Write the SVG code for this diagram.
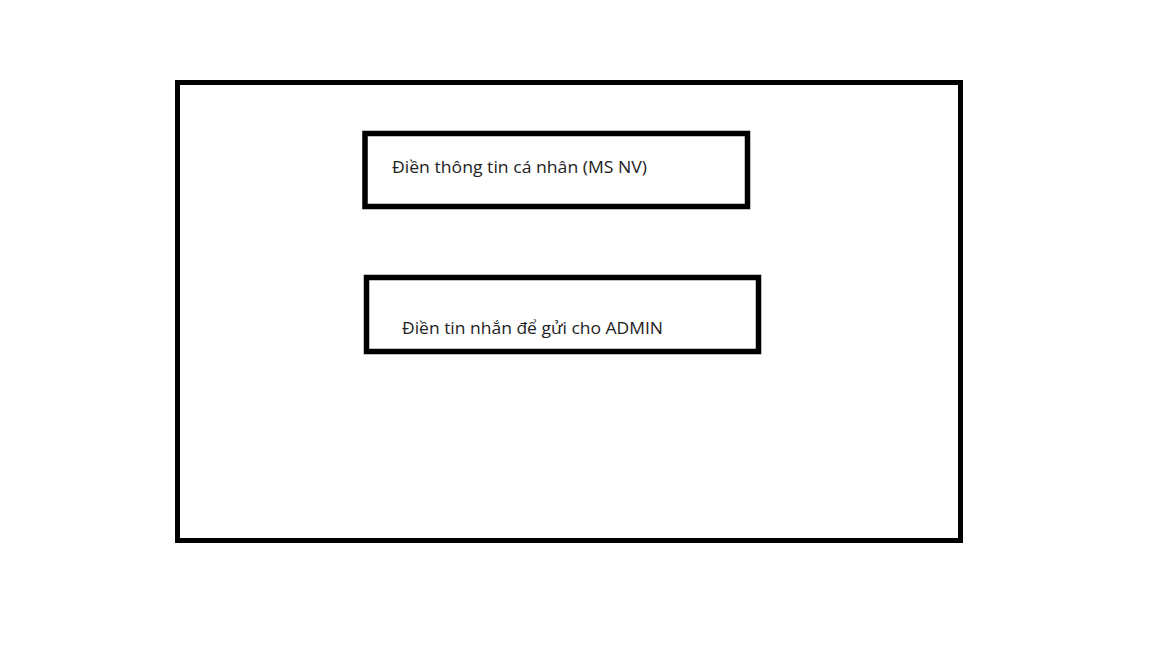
<svg xmlns="http://www.w3.org/2000/svg" width="1152" height="648" viewBox="0 0 1152 648">
<style>
.frame{fill:#ffffff;stroke:#000000;stroke-width:5}
.box{fill:#ffffff;stroke:#000000;stroke-width:5.5}
.lbl{font-family:"Open Sans","Noto Sans","DejaVu Sans",sans-serif;font-size:17px;fill:#222222}
</style>
<rect width="1152" height="648" fill="#ffffff"/>
<g id="screen"><rect class="frame" x="177.5" y="82.5" width="783" height="458"/></g>
<g id="node-info">
<rect class="box" x="365" y="133.5" width="382.5" height="73"/>
<text class="lbl" x="392" y="173" textLength="255" lengthAdjust="spacingAndGlyphs">Điền thông tin cá nhân (MS NV)</text>
</g>
<g id="node-message">
<rect class="box" x="366.5" y="277.5" width="392" height="74"/>
<text class="lbl" x="402" y="334" textLength="261" lengthAdjust="spacingAndGlyphs">Điền tin nhắn để gửi cho ADMIN</text>
</g>
<g id="connectors"></g>
</svg>
